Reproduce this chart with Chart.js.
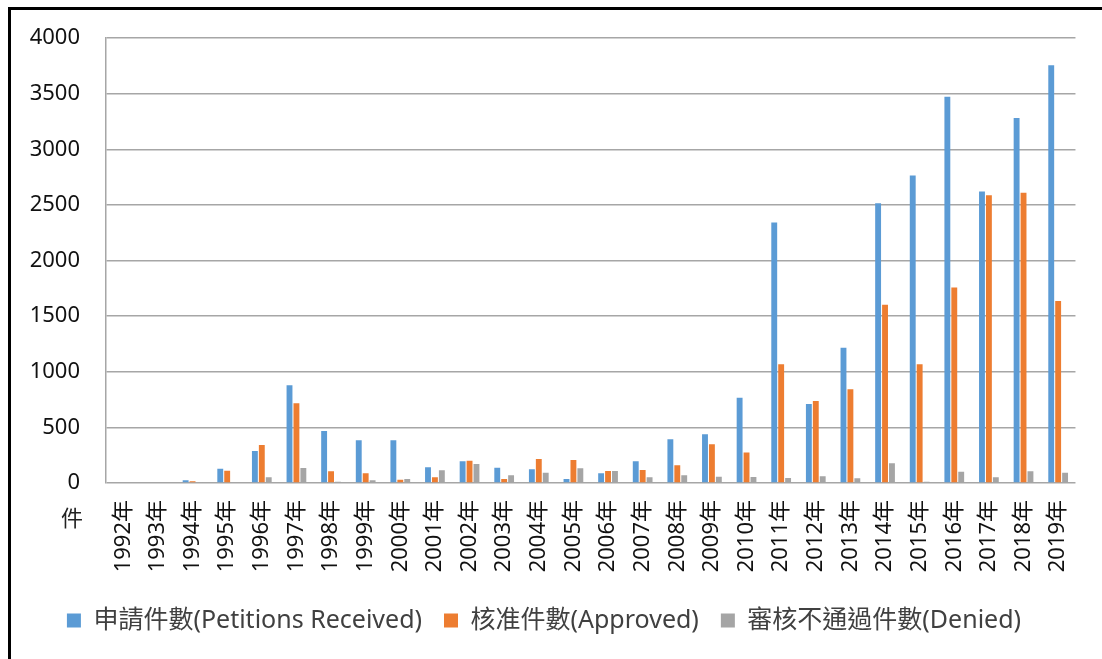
<!DOCTYPE html>
<html>
<head>
<meta charset="utf-8">
<script src="https://cdn.jsdelivr.net/npm/chart.js@4"></script>
<style>
  html, body { margin: 0; padding: 0; background: #fff; overflow: hidden; }
  #frame {
    position: absolute; left: 8px; top: 7px;
    width: 1200px; height: 800px;
    border-left: 3px solid #000; border-top: 3px solid #000;
  }
  #box { position: relative; width: 1091px; height: 649px; }
</style>
</head>
<body>
<div id="frame"><div id="box"><canvas id="petitionChart"></canvas></div></div>
<script>
// ===============================
// data
// ===============================
const years = ["1992年","1993年","1994年","1995年","1996年","1997年","1998年","1999年","2000年","2001年",
  "2002年","2003年","2004年","2005年","2006年","2007年","2008年","2009年","2010年","2011年",
  "2012年","2013年","2014年","2015年","2016年","2017年","2018年","2019年"];

const received = [0,0,25,129,288,878,468,384,384,141,195,138,123,36,87,195,393,438,767,2341,710,1215,2514,2764,3473,2620,3282,3754];
const approved = [0,0,15,111,342,716,105,87,30,51,201,36,216,207,108,117,159,348,274,1068,737,842,1602,1068,1757,2587,2608,1635];
const denied   = [0,0,2,6,51,135,12,24,36,114,171,69,93,132,108,51,69,57,54,45,60,42,177,12,102,51,105,93];

const seriesNames = ["申請件數(Petitions Received)","核准件數(Approved)","審核不通過件數(Denied)"];
const unitLabel = "件";

const FONT = '"Noto Sans", "Noto Sans CJK TC", sans-serif';

// "件" under the y axis
const unitPlugin = {
  id: "unitLabel",
  afterDraw(chart) {
    const c = chart.ctx;
    const a = chart.chartArea;
    c.save();
    c.font = "22px " + FONT;
    c.fillStyle = "#222";
    c.textAlign = "center";
    c.textBaseline = "middle";
    c.fillText(unitLabel, a.left - 34, a.bottom + 37);
    c.restore();
  }
};

let ctx = document.getElementById("petitionChart").getContext("2d");

let petitionChart = new Chart(ctx, {
  type: "bar",
  data: {
    labels: years,
    datasets: [
      { label: seriesNames[0], data: received, backgroundColor: "#5b9bd5" },
      { label: seriesNames[1], data: approved, backgroundColor: "#ed7d31" },
      { label: seriesNames[2], data: denied,   backgroundColor: "#a5a5a5" }
    ]
  },
  options: {
    responsive: true,
    maintainAspectRatio: false,
    animation: false,
    datasets: {
      bar: { categoryPercentage: 0.6, barPercentage: 0.85 }
    },
    layout: { padding: { top: 28, right: 25, bottom: 16, left: 0 } },
    plugins: {
      tooltip: { enabled: false },
      legend: {
        position: "bottom",
        labels: {
          boxWidth: 14,
          boxHeight: 14,
          padding: 22,
          color: "#404040",
          font: { family: FONT, size: 25 }
        }
      }
    },
    scales: {
      x: {
        grid: { display: false, drawTicks: false },
        border: { display: false },
        ticks: {
          autoSkip: false,
          minRotation: 90,
          maxRotation: 90,
          padding: 17,
          color: "#111",
          font: { family: FONT, size: 22 }
        },
        afterFit(scale) { scale.height = 103; }
      },
      y: {
        min: 0,
        max: 4000,
        ticks: {
          stepSize: 500,
          padding: 0,
          color: "#111",
          font: { family: FONT, size: 22 },
          callback: (v) => String(v)
        },
        grid: {
          color: "#a6a6a6",
          lineWidth: 1.5,
          drawTicks: true,
          tickLength: 26,
          tickColor: "rgba(0,0,0,0)"
        },
        border: { display: true, color: "#a6a6a6", width: 1.5 },
        afterFit(scale) { scale.width = 95; }
      }
    }
  },
  plugins: [unitPlugin]
});
</script>
</body>
</html>
